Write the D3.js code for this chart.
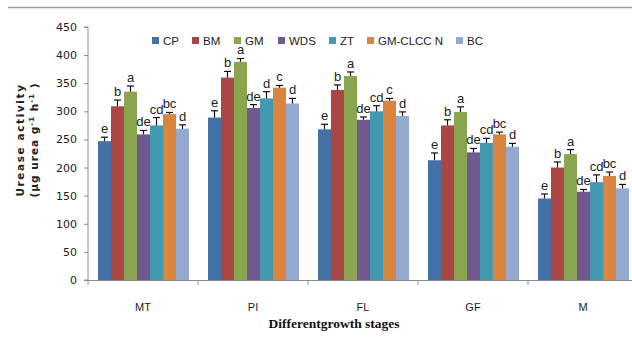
<!DOCTYPE html>
<html>
<head>
<meta charset="utf-8">
<script src="https://cdn.jsdelivr.net/npm/d3@7"></script>
<style>
  html, body { margin: 0; padding: 0; background: #fff; }
  svg { display: block; }
</style>
</head>
<body>
<svg id="chart" width="632" height="348"></svg>
<script>
// Growth stages on the x axis
const stages = ["MT", "PI", "FL", "GF", "M"];
// Treatments (legend order)
const treatments = ["CP", "BM", "GM", "WDS", "ZT", "GM-CLCC N", "BC"];
const colors = ["#4571A9", "#AA4644", "#89A64E", "#71598F", "#4299B0", "#DB843D", "#93A9D0"];

// Urease activity per treatment, one value per stage (MT, PI, FL, GF, M)
const CP   = [247, 289, 268, 213, 145];
const BM   = [309, 360, 338, 275, 200];
const GM   = [335, 388, 363, 299, 224];
const WDS  = [259, 306, 285, 227, 157];
const ZT   = [275, 323, 300, 244, 174];
const GMCL = [295, 342, 319, 259, 185];
const BC   = [269, 314, 292, 237, 163];

// Standard errors
const CP_err   = [7, 12, 9, 13, 8];
const BM_err   = [11, 11, 9, 10, 10];
const GM_err   = [10, 6, 7, 9, 8];
const WDS_err  = [7, 6, 5, 7, 4];
const ZT_err   = [14, 12, 10, 8, 13];
const GMCL_err = [3, 4, 4, 4, 7];
const BC_err   = [7, 9, 7, 6, 7];

// Significance letters
const CP_sig   = ["e", "e", "e", "e", "e"];
const BM_sig   = ["b", "b", "b", "b", "b"];
const GM_sig   = ["a", "a", "a", "a", "a"];
const WDS_sig  = ["de", "de", "de", "de", "de"];
const ZT_sig   = ["cd", "d", "cd", "cd", "cd"];
const GMCL_sig = ["bc", "c", "c", "bc", "bc"];
const BC_sig   = ["d", "d", "d", "d", "d"];

const yTicks = [0, 50, 100, 150, 200, 250, 300, 350, 400, 450];

const values = [CP, BM, GM, WDS, ZT, GMCL, BC];
const errs = [CP_err, BM_err, GM_err, WDS_err, ZT_err, GMCL_err, BC_err];
const sigs = [CP_sig, BM_sig, GM_sig, WDS_sig, ZT_sig, GMCL_sig, BC_sig];

const rows = [];
stages.forEach((s, si) => {
  treatments.forEach((t, ti) => {
    rows.push({ stage: s, treatment: t, ti, value: values[ti][si], err: errs[ti][si], sig: sigs[ti][si] });
  });
});

const svg = d3.select("#chart");
const plotLeft = 88, plotBottom = 280, plotTop = 27;
const bandW = 110;

// frame line across the top
svg.append("line")
  .attr("x1", 8).attr("x2", 632).attr("y1", 7.5).attr("y2", 7.5)
  .attr("stroke", "#a0a0a0").attr("stroke-width", 1.5);

const x0 = d3.scaleBand().domain(stages).range([plotLeft, plotLeft + bandW * stages.length]).paddingInner(0).paddingOuter(0);
const x1 = d3.scaleBand().domain(treatments).range([10, bandW - 9]).padding(0);
const y = d3.scaleLinear().domain([0, 450]).range([plotBottom, plotTop]);

// y axis
const yAxis = svg.append("g").attr("transform", `translate(${plotLeft},0)`)
  .call(d3.axisLeft(y).tickValues(yTicks).tickSize(4).tickPadding(7));
yAxis.select(".domain").attr("stroke", "#8c8c8c").attr("d", `M-4,${plotTop}H0V${plotBottom}H-4`);
yAxis.selectAll(".tick line").attr("stroke", "#8c8c8c");
yAxis.selectAll(".tick text")
  .attr("font-family", "DejaVu Sans, sans-serif").attr("font-size", 11).attr("fill", "#222");

// x axis
const xAxis = svg.append("g").attr("transform", `translate(0,${plotBottom})`)
  .call(d3.axisBottom(x0).tickSize(0).tickPadding(23));
xAxis.select(".domain").attr("stroke", "#8c8c8c").attr("d", `M${plotLeft},0.5H632`);
xAxis.selectAll(".tick text")
  .attr("font-family", "Liberation Sans, Arial, sans-serif").attr("font-size", 11).attr("fill", "#222");
// category separators
svg.append("g").selectAll("line").data(stages).join("line")
  .attr("x1", d => x0(d)).attr("x2", d => x0(d))
  .attr("y1", plotBottom).attr("y2", plotBottom + 5)
  .attr("stroke", "#8c8c8c");

// bars
const bars = svg.append("g");
bars.selectAll("rect").data(rows).join("rect")
  .attr("x", d => x0(d.stage) + x1(d.treatment))
  .attr("width", x1.bandwidth())
  .attr("y", d => y(d.value))
  .attr("height", d => y(0) - y(d.value))
  .attr("fill", d => colors[d.ti]);

// error bars
const eb = svg.append("g").attr("stroke", "#111").attr("stroke-width", 1.2);
eb.selectAll("line.v").data(rows).join("line").attr("class", "v")
  .attr("x1", d => x0(d.stage) + x1(d.treatment) + x1.bandwidth() / 2)
  .attr("x2", d => x0(d.stage) + x1(d.treatment) + x1.bandwidth() / 2)
  .attr("y1", d => y(d.value)).attr("y2", d => y(d.value + d.err));
eb.selectAll("line.c").data(rows).join("line").attr("class", "c")
  .attr("x1", d => x0(d.stage) + x1(d.treatment) + x1.bandwidth() / 2 - 3.5)
  .attr("x2", d => x0(d.stage) + x1(d.treatment) + x1.bandwidth() / 2 + 3.5)
  .attr("y1", d => y(d.value + d.err)).attr("y2", d => y(d.value + d.err));

// significance letters
svg.append("g").selectAll("text").data(rows).join("text")
  .attr("x", d => x0(d.stage) + x1(d.treatment) + x1.bandwidth() / 2)
  .attr("y", d => y(d.value + d.err) - 4)
  .attr("text-anchor", "middle")
  .attr("font-family", "Liberation Sans, Arial, sans-serif")
  .attr("font-size", 13).attr("fill", "#222")
  .text(d => d.sig);

// legend
const legendX = [152, 192, 234, 278, 329, 367, 456];
const legend = svg.append("g");
treatments.forEach((t, i) => {
  legend.append("rect").attr("x", legendX[i]).attr("y", 37).attr("width", 7).attr("height", 7).attr("fill", colors[i]);
  legend.append("text").attr("x", legendX[i] + 11).attr("y", 45)
    .attr("font-family", "Liberation Sans, Arial, sans-serif").attr("font-size", 11.5).attr("fill", "#222")
    .text(t);
});

// axis titles
const yt = svg.append("text")
  .attr("transform", "translate(24,140) rotate(-90)")
  .attr("text-anchor", "middle")
  .attr("font-family", "DejaVu Sans, sans-serif").attr("font-weight", "bold")
  .attr("font-size", 10.5).attr("fill", "#222");
yt.append("tspan").attr("x", 0).attr("dy", 0).attr("letter-spacing", 1.6).text("Urease  activity");
const l2 = yt.append("tspan").attr("x", 0).attr("dy", 14).attr("letter-spacing", 1);
l2.append("tspan").text("(µg urea g");
l2.append("tspan").attr("baseline-shift", "super").attr("font-size", 7).text("-1");
l2.append("tspan").text(" h");
l2.append("tspan").attr("baseline-shift", "super").attr("font-size", 7).text("-1");
l2.append("tspan").text(" )");

svg.append("text")
  .attr("x", 334).attr("y", 328)
  .attr("text-anchor", "middle")
  .attr("font-family", "Liberation Serif, Times New Roman, serif").attr("font-weight", "bold")
  .attr("font-size", 13.5).attr("fill", "#111")
  .text("Differentgrowth stages");
</script>
</body>
</html>
